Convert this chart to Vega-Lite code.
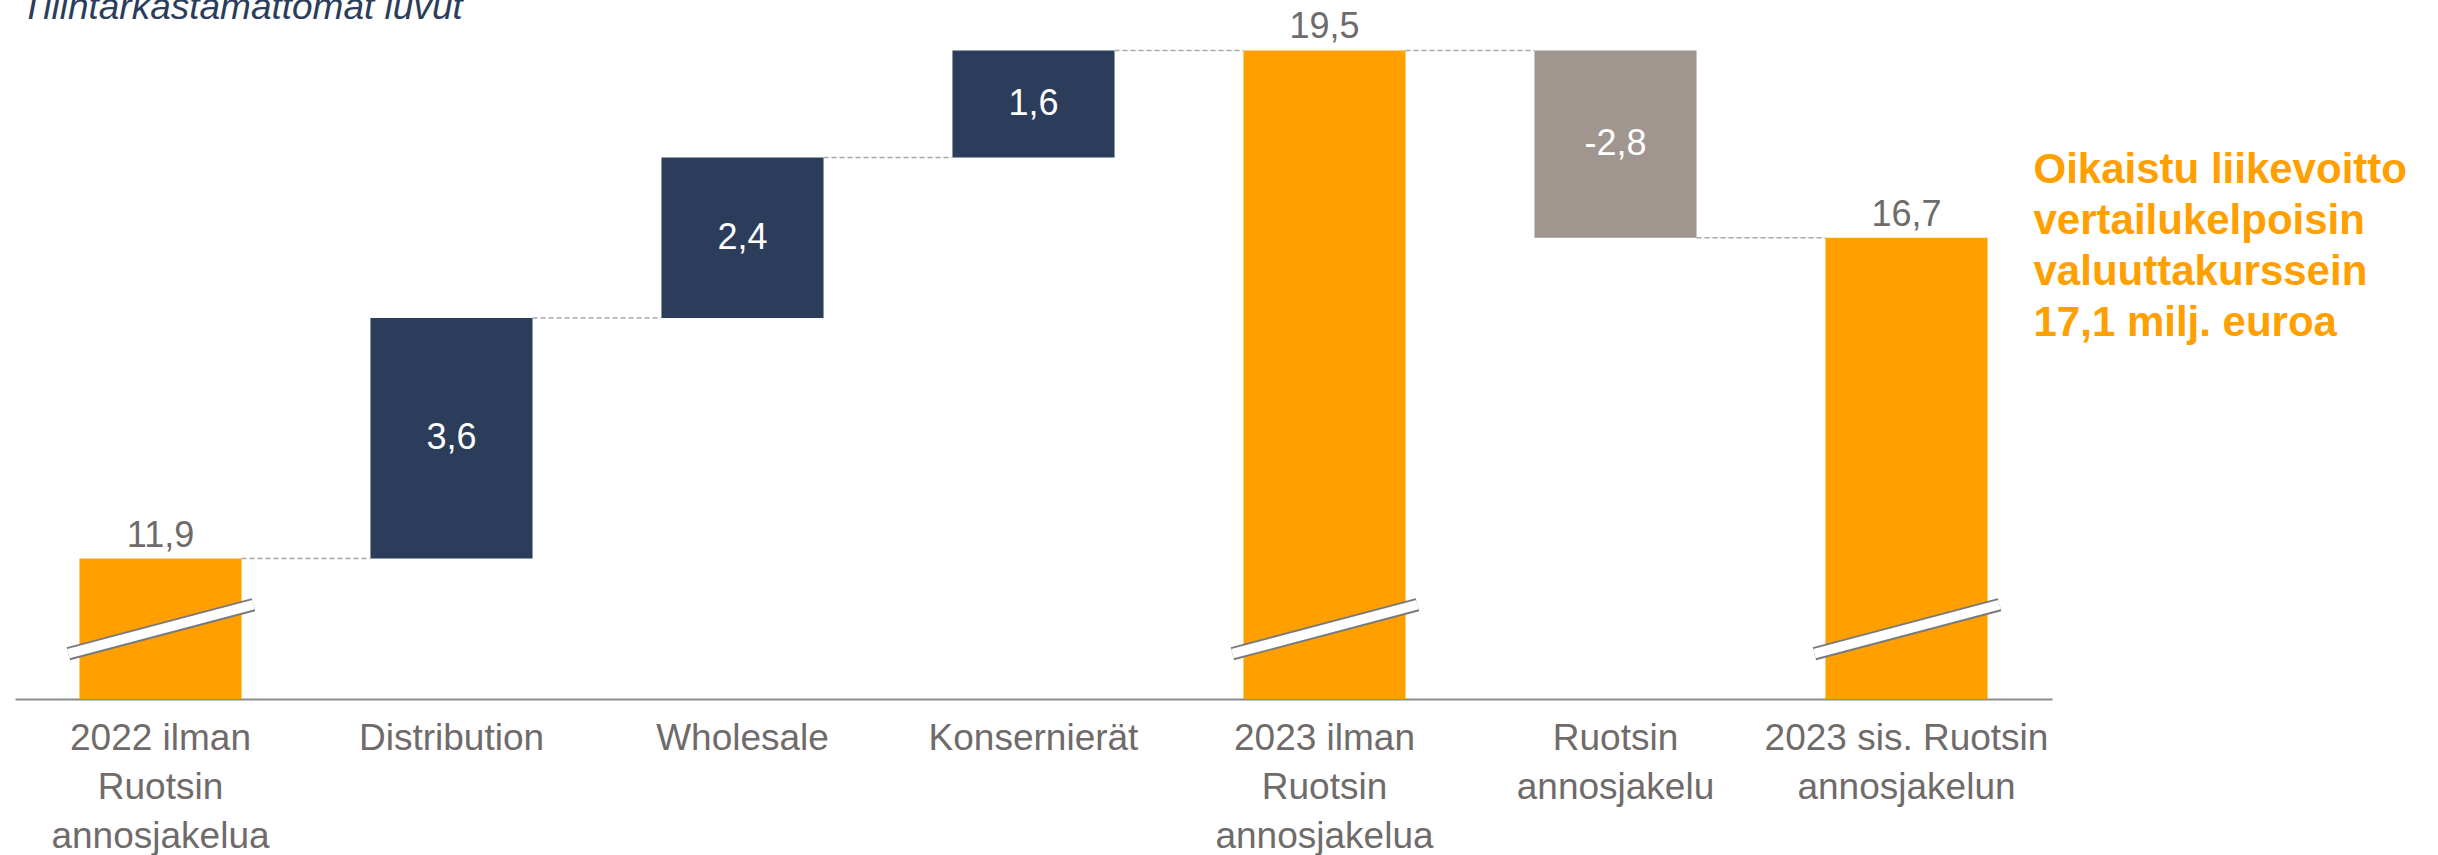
{
  "$schema": "https://vega.github.io/schema/vega-lite/v6.json",
  "width": 2037,
  "height": 682,
  "autosize": "none",
  "padding": {"left": 15, "top": 17, "right": 386, "bottom": 156},
  "background": "white",
  "config": {"view": {"stroke": null}, "font": "Liberation Sans"},
  "datasets": {
    "steps": [
      {"cat": "2022 ilman|Ruotsin|annosjakelua", "start": 0, "end": 11.9, "kind": "total", "label": "11,9"},
      {"cat": "Distribution", "start": 11.9, "end": 15.5, "kind": "up", "label": "3,6"},
      {"cat": "Wholesale", "start": 15.5, "end": 17.9, "kind": "up", "label": "2,4"},
      {"cat": "Konsernierät", "start": 17.9, "end": 19.5, "kind": "up", "label": "1,6"},
      {"cat": "2023 ilman|Ruotsin|annosjakelua", "start": 0, "end": 19.5, "kind": "total", "label": "19,5"},
      {"cat": "Ruotsin|annosjakelu", "start": 19.5, "end": 16.7, "kind": "down", "label": "-2,8"},
      {"cat": "2023 sis. Ruotsin|annosjakelun", "start": 0, "end": 16.7, "kind": "total", "label": "16,7"}
    ],
    "links": [
      {"from": "2022 ilman|Ruotsin|annosjakelua", "to": "Distribution", "level": 11.9},
      {"from": "Distribution", "to": "Wholesale", "level": 15.5},
      {"from": "Wholesale", "to": "Konsernierät", "level": 17.9},
      {"from": "Konsernierät", "to": "2023 ilman|Ruotsin|annosjakelua", "level": 19.5},
      {"from": "2023 ilman|Ruotsin|annosjakelua", "to": "Ruotsin|annosjakelu", "level": 19.5},
      {"from": "Ruotsin|annosjakelu", "to": "2023 sis. Ruotsin|annosjakelun", "level": 16.7}
    ],
    "breaks": [
      {"cat": "2022 ilman|Ruotsin|annosjakelua", "left": 10.478, "right": 11.211},
      {"cat": "2023 ilman|Ruotsin|annosjakelua", "left": 10.478, "right": 11.211},
      {"cat": "2023 sis. Ruotsin|annosjakelun", "left": 10.478, "right": 11.211}
    ]
  },
  "encoding": {
    "x": {
      "field": "cat",
      "type": "nominal",
      "sort": null,
      "scale": {
        "domain": ["2022 ilman|Ruotsin|annosjakelua", "Distribution", "Wholesale", "Konsernierät", "2023 ilman|Ruotsin|annosjakelua", "Ruotsin|annosjakelu", "2023 sis. Ruotsin|annosjakelun"],
        "paddingInner": 0.443,
        "paddingOuter": 0.2215
      },
      "axis": {
        "title": null,
        "ticks": false,
        "tickSize": 0,
        "labelAngle": 0,
        "labelExpr": "split(datum.label, '|')",
        "labelFont": "Liberation Sans",
        "labelFontSize": 37,
        "labelColor": "#6F6B6B",
        "labelLineHeight": 49,
        "labelPadding": 21,
        "labelLimit": 0,
        "labelOverlap": false,
        "labelBound": false,
        "domainColor": "#8C8C8C",
        "domainWidth": 2,
        "grid": false
      }
    }
  },
  "layer": [
    {
      "data": {"name": "steps"},
      "mark": {"type": "bar"},
      "encoding": {
        "y": {"field": "start", "type": "quantitative", "scale": {"domain": [9.8, 20], "zero": false, "nice": false, "clamp": true}, "axis": null},
        "y2": {"field": "end"},
        "color": {"field": "kind", "type": "nominal", "scale": {"domain": ["total", "up", "down"], "range": ["#FFA000", "#2B3D5B", "#A0958F"]}, "legend": null}
      }
    },
    {
      "data": {"name": "steps"},
      "transform": [
        {"filter": "datum.kind !== 'total'"},
        {"calculate": "(datum.start + datum.end) / 2", "as": "mid"}
      ],
      "mark": {"type": "text", "font": "Liberation Sans", "fontSize": 36, "color": "white", "baseline": "middle", "align": "center"},
      "encoding": {
        "y": {"field": "mid", "type": "quantitative"},
        "text": {"field": "label", "type": "nominal"}
      }
    },
    {
      "data": {"name": "steps"},
      "transform": [{"filter": "datum.kind === 'total'"}],
      "mark": {"type": "text", "font": "Liberation Sans", "fontSize": 36, "color": "#6F6B6B", "baseline": "alphabetic", "align": "center", "dy": -12},
      "encoding": {
        "y": {"field": "end", "type": "quantitative"},
        "text": {"field": "label", "type": "nominal"}
      }
    },
    {
      "data": {"name": "links"},
      "mark": {"type": "rule", "color": "#A6A6A6", "strokeWidth": 1.5, "strokeDash": [5, 3]},
      "encoding": {
        "x": {"field": "from", "type": "nominal", "bandPosition": 1},
        "x2": {"field": "to", "bandPosition": 0},
        "y": {"field": "level", "type": "quantitative"}
      }
    },
    {
      "data": {"name": "breaks"},
      "mark": {"type": "rule", "color": "#7A7A7A", "strokeWidth": 13.4, "strokeCap": "butt"},
      "encoding": {
        "x": {"field": "cat", "type": "nominal", "bandPosition": -0.068},
        "x2": {"field": "cat", "bandPosition": 1.074},
        "y": {"field": "left", "type": "quantitative"},
        "y2": {"field": "right"}
      }
    },
    {
      "data": {"name": "breaks"},
      "mark": {"type": "rule", "color": "white", "strokeWidth": 9.6, "strokeCap": "butt"},
      "encoding": {
        "x": {"field": "cat", "type": "nominal", "bandPosition": -0.068},
        "x2": {"field": "cat", "bandPosition": 1.074},
        "y": {"field": "left", "type": "quantitative"},
        "y2": {"field": "right"}
      }
    },
    {
      "data": {"values": [{"note": "annotation"}]},
      "mark": {
        "type": "text",
        "text": ["Oikaistu liikevoitto", "vertailukelpoisin", "valuuttakurssein", "17,1 milj. euroa"],
        "font": "Liberation Sans",
        "fontSize": 42,
        "fontWeight": "bold",
        "color": "#FFA000",
        "align": "left",
        "baseline": "alphabetic",
        "lineHeight": 51,
        "dx": 127
      },
      "encoding": {
        "x": {"datum": "2023 sis. Ruotsin|annosjakelun", "type": "nominal"},
        "y": {"datum": 17.51, "type": "quantitative"}
      }
    },
    {
      "data": {"values": [{"note": "subtitle"}]},
      "mark": {
        "type": "text",
        "text": "Tilintarkastamattomat luvut",
        "font": "Liberation Sans",
        "fontSize": 37,
        "fontStyle": "italic",
        "color": "#2B3D5B",
        "align": "left",
        "baseline": "alphabetic",
        "dx": -58.5
      },
      "encoding": {
        "x": {"datum": "2022 ilman|Ruotsin|annosjakelua", "type": "nominal", "bandPosition": 0},
        "y": {"datum": 19.964, "type": "quantitative"}
      }
    }
  ]
}
